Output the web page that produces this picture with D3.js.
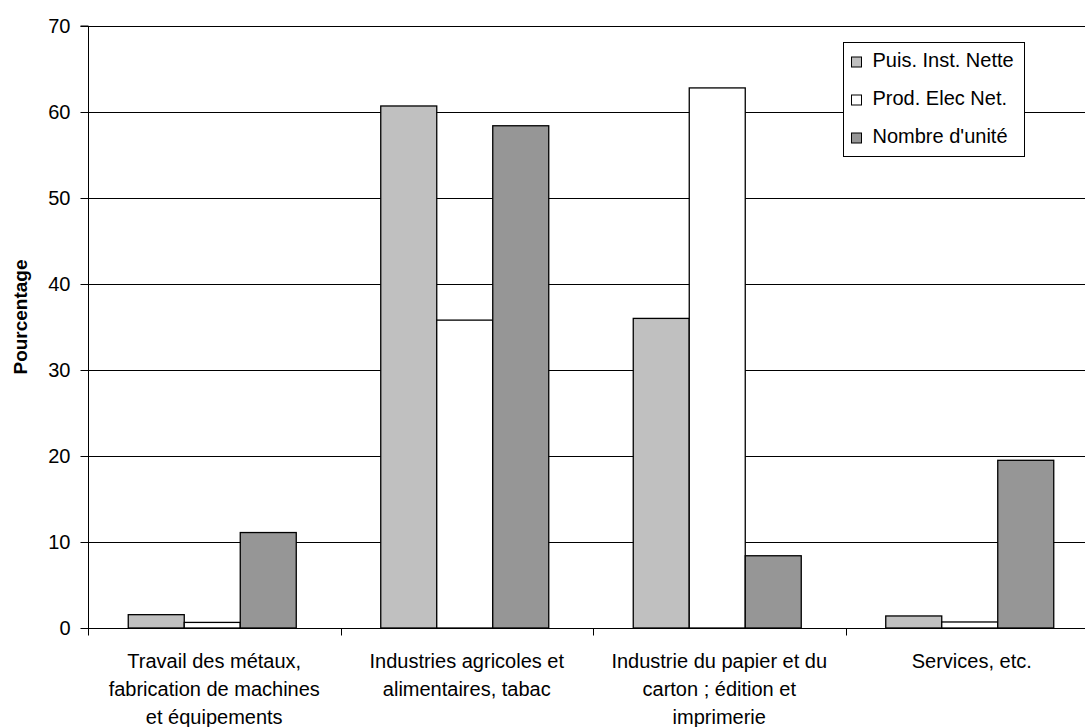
<!DOCTYPE html>
<html>
<head>
<meta charset="utf-8">
<script src="https://cdn.jsdelivr.net/npm/d3@7"></script>
<style>
  html, body { margin: 0; padding: 0; background: #fff; }
  svg { display: block; font-family: "Liberation Sans", Arial, sans-serif; }
</style>
</head>
<body>
<svg id="chart" width="1085" height="727"></svg>
<script>
// ── Data ────────────────────────────────────────────────────────────────────
const categories = [
  ["Travail des métaux,", "fabrication de machines", "et équipements"],
  ["Industries agricoles et", "alimentaires, tabac"],
  ["Industrie du papier et du", "carton ; édition et", "imprimerie"],
  ["Services, etc."]
];
const seriesNames = ["Puis. Inst. Nette", "Prod. Elec Net.", "Nombre d'unité"];
const puissance   = [1.55, 60.7, 36.0, 1.4];
const production  = [0.65, 35.8, 62.8, 0.7];
const unites      = [11.1, 58.4, 8.4, 19.5];
const yTicks      = [0, 10, 20, 30, 40, 50, 60, 70];
const COLORS      = ["#c0c0c0", "#ffffff", "#969696"];

const series = [puissance, production, unites];

// ── Layout ──────────────────────────────────────────────────────────────────
const svg = d3.select("#chart");
const plotL = 88, plotR = 1098, plotT = 26, plotB = 628;

const x = d3.scaleBand().domain(d3.range(categories.length)).range([plotL, plotR]);
const groupW = 168;
const xs = d3.scaleBand().domain(d3.range(series.length))
  .range([(x.bandwidth() - groupW) / 2 - 2, (x.bandwidth() + groupW) / 2 - 2]);
const y = d3.scaleLinear().domain([0, 70]).range([plotB, plotT]);

// Gridlines
svg.append("g").selectAll("line").data(yTicks.filter(t => t > 0)).join("line")
  .attr("x1", plotL).attr("x2", plotR)
  .attr("y1", d => y(d) + 0.5).attr("y2", d => y(d) + 0.5)
  .attr("stroke", "#000").attr("stroke-width", 1);

// Bars
series.forEach((vals, si) => {
  svg.append("g").selectAll("rect").data(vals).join("rect")
    .attr("x", (d, i) => x(i) + xs(si))
    .attr("y", d => y(d))
    .attr("width", xs.bandwidth())
    .attr("height", d => y(0) - y(d))
    .attr("fill", COLORS[si])
    .attr("stroke", "#000").attr("stroke-width", 1.3);
});

// Y axis
const yAxis = svg.append("g").attr("transform", `translate(${plotL + 0.5},0)`)
  .call(d3.axisLeft(y).tickValues(yTicks).tickSize(8).tickPadding(10));
yAxis.select(".domain").attr("d", `M-8,${y(70)}H0V${y(0)}`);
yAxis.selectAll("text").attr("font-size", "20px").attr("fill", "#000")
  .attr("font-family", "Liberation Sans, Arial, sans-serif");

// X axis
const xAxis = svg.append("g").attr("transform", `translate(0,${plotB + 0.5})`);
xAxis.append("line").attr("x1", plotL).attr("x2", plotR).attr("stroke", "#000");
xAxis.selectAll("line.tick").data(d3.range(categories.length + 1)).join("line")
  .attr("class", "tick")
  .attr("x1", i => Math.round(plotL + i * x.step()) + 0.5)
  .attr("x2", i => Math.round(plotL + i * x.step()) + 0.5)
  .attr("y1", 0).attr("y2", 7).attr("stroke", "#000");

categories.forEach((lines, i) => {
  const t = svg.append("text")
    .attr("text-anchor", "middle").attr("font-size", "20px").attr("fill", "#000");
  lines.forEach((ln, k) => {
    t.append("tspan").attr("x", x(i) + x.bandwidth() / 2).attr("y", 668 + k * 28).text(ln);
  });
});

// Y title
svg.append("text")
  .attr("transform", "translate(27,317) rotate(-90)")
  .attr("text-anchor", "middle").attr("font-size", "19px").attr("font-weight", "700")
  .text("Pourcentage");

// Legend
const leg = svg.append("g").attr("transform", "translate(843.5,42.5)");
leg.append("rect").attr("width", 181).attr("height", 114)
  .attr("fill", "#fff").attr("stroke", "#000");
seriesNames.forEach((name, i) => {
  const row = leg.append("g").attr("transform", `translate(8,${24.5 + i * 38})`);
  row.append("rect").attr("x", 0).attr("y", -10).attr("width", 10).attr("height", 10)
    .attr("fill", COLORS[i]).attr("stroke", "#000");
  row.append("text").attr("x", 21).attr("y", 0).attr("font-size", "20px").text(name);
});
</script>
</body>
</html>
